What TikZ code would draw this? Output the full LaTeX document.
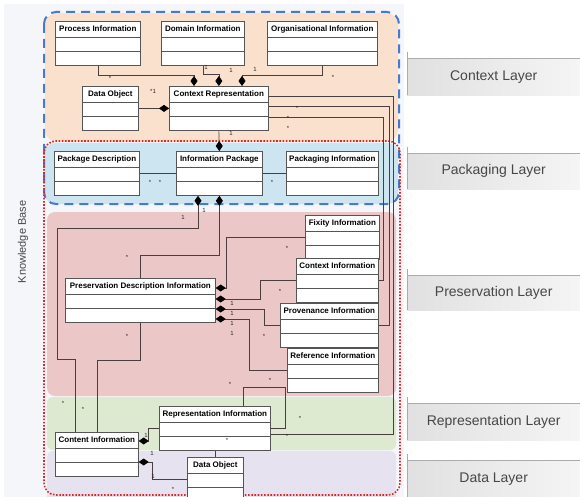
\documentclass[tikz,border=0pt]{standalone}
\usepackage{fontspec}
\setmainfont{Liberation Sans}
\usepackage{tikz}
\usetikzlibrary{shapes.multipart,arrows.meta,positioning,calc}

\definecolor{ctxfill}{RGB}{250,225,205}
\definecolor{pkgfill}{RGB}{204,229,240}
\definecolor{presfill}{RGB}{236,199,199}
\definecolor{repfill}{RGB}{222,234,208}
\definecolor{datafill}{RGB}{231,226,240}
\definecolor{kbfill}{RGB}{244,246,250}
\definecolor{kbblue}{RGB}{72,122,200}
\definecolor{kbred}{RGB}{222,40,40}
\definecolor{boxline}{RGB}{85,85,85}
\definecolor{linkline}{RGB}{75,62,62}

\begin{document}
\begin{tikzpicture}[x=1pt,y=-1pt,
  umlclass/.style={rectangle split,rectangle split parts=3,
    rectangle split ignore empty parts=false,
    rectangle split empty part height=7.5pt,rectangle split empty part depth=0pt,
    draw=boxline,fill=white,line width=0.7pt,inner xsep=2pt,inner ysep=3pt,
    anchor=north west,font=\fontsize{8}{9}\selectfont\bfseries,
    execute at begin node={\rule[-2.5pt]{0pt}{9pt}}},
  layertab/.style={anchor=north west,minimum width=173pt,inner sep=0pt,
    left color=gray!24,right color=gray!8,font=\fontsize{14}{16}\selectfont,
    text=black!72},
  tabedge/.style={draw=gray!65,line width=0.8pt},
  assoc/.style={draw=linkline,line width=0.7pt},
  compo/.style={assoc,-{Diamond[length=10pt,width=7pt,black]}},
  mult/.style={font=\fontsize{6}{7}\selectfont,inner sep=0pt,text=black!85},
]
  \useasboundingbox (0,0) rectangle (580,497);

  % layers
  \fill[kbfill] (4,4) rectangle (404,497);
  \fill[ctxfill,rounded corners=12pt] (45,13) rectangle (398,142);
  \fill[pkgfill,rounded corners=10pt] (45,143) rectangle (398,204);
  \fill[presfill,rounded corners=8pt] (47,212) rectangle (396,396);
  \fill[repfill,rounded corners=6pt] (47,397) rectangle (396,450);
  \fill[datafill,rounded corners=6pt] (47,451) rectangle (396,505);
  \draw[kbblue,line width=2pt,dash pattern=on 9pt off 6pt,rounded corners=12pt]
    (44,12) rectangle (399,204);
  \draw[kbred,line width=1.6pt,dash pattern=on 1.6pt off 1.6pt,rounded corners=12pt]
    (44,141) rectangle (400,495);
  \node[rotate=90,font=\fontsize{11}{13}\selectfont,text=black!72] (kb) at (23,242)
    {Knowledge Base};

  % layer tabs
  \node[layertab,minimum height=37pt] (tctx) at (407,58) {Context Layer};
  \node[layertab,minimum height=36pt] (tpkg) at (407,153) {Packaging Layer};
  \node[layertab,minimum height=35pt] (tpres) at (407,275) {Preservation Layer};
  \node[layertab,minimum height=37pt] (trep) at (407,403) {Representation Layer};
  \node[layertab,minimum height=37pt] (tdata) at (407,460) {Data Layer};
  \foreach \t in {tctx,tpkg,tpres,trep,tdata}
    \draw[tabedge] ([yshift=6pt]\t.north west) -- (\t.south west)
      (\t.north west) -- (\t.north east);

  % classes
  \node[umlclass,minimum width=85pt] (proc) at (55,21) {Process Information};
  \node[umlclass,minimum width=83pt] (dom) at (161,21) {Domain Information};
  \node[umlclass,minimum width=110pt] (org) at (267,21) {Organisational Information};
  \node[umlclass,minimum width=56pt] (dobjc) at (82,86) {Data Object};
  \node[umlclass,minimum width=99pt] (ctxrep) at (169,86) {Context Representation};
  \node[umlclass,minimum width=85pt] (pkgdesc) at (54,151) {Package Description};
  \node[umlclass,minimum width=86pt] (infopkg) at (176,151) {Information Package};
  \node[umlclass,minimum width=92pt] (pkginfo) at (286,151) {Packaging Information};
  \node[umlclass,minimum width=150pt] (pdi) at (65,278)
    {Preservation Description Information};
  \node[umlclass,minimum width=74pt] (fixity) at (305,215) {Fixity Information};
  \node[umlclass,minimum width=82pt] (ctxinfo) at (296,258) {Context Information};
  \node[umlclass,minimum width=98pt] (prov) at (280,303) {Provenance Information};
  \node[umlclass,minimum width=91pt] (ref) at (287,348) {Reference Information};
  \node[umlclass,minimum width=111pt] (repinfo) at (159,406)
    {Representation Information};
  \node[umlclass,minimum width=83pt] (content) at (55,432) {Content Information};
  \node[umlclass,minimum width=56pt] (dobj) at (187,457) {Data Object};

  % context layer links
  \draw[compo] (proc.south) |- ($(ctxrep.north west)+(25,-11)$)
    -- ($(ctxrep.north west)+(25,0)$);
  \draw[compo] (dom.south) |- ($(ctxrep.north)+(0,-12)$) -- (ctxrep.north);
  \draw[compo] (org.south) |- ($(ctxrep.north west)+(73,-11)$)
    -- ($(ctxrep.north west)+(73,0)$);
  \draw[compo] (dobjc.east) -- (ctxrep.west);
  \draw[compo] (ctxrep.south) -- (infopkg.north);
  \draw[assoc] ($(ctxrep.north east)+(0,10)$) -| ($(repinfo.north east)+(123,0)$)
    |- ($(repinfo.north east)+(0,28)$);
  \draw[assoc] ($(ctxrep.north east)+(0,20)$) -| ($(prov.east)+(11,0)$) -- (prov.east);
  \draw[assoc] ($(ctxrep.north east)+(0,31)$) -| ($(ctxinfo.east)+(5,0)$)
    -- (ctxinfo.east);

  % packaging layer links
  \draw[assoc] (pkgdesc.east) -- (infopkg.west);
  \draw[assoc] (infopkg.east) -- (pkginfo.west);
  \draw[compo] ($(content.north west)+(20,0)$) |- (57,359)
    |- ($(infopkg.south west)+(22,33)$) -- ($(infopkg.south west)+(22,0)$);
  \draw[compo] (pdi.north) |- ($(infopkg.south)+(0,60)$) -- (infopkg.south);
  \draw[assoc] (pdi.south) |- ($(content.north)+(0,-72)$) -- (content.north);

  % preservation layer links
  \draw[compo] (fixity.west) -| ($(pdi.north east)+(11,10)$)
    -- ($(pdi.north east)+(0,10)$);
  \draw[compo] (ctxinfo.west) -| ($(pdi.north east)+(45,21)$)
    -- ($(pdi.north east)+(0,21)$);
  \draw[compo] (prov.west) -| ($(pdi.north east)+(49,31)$)
    -- ($(pdi.north east)+(0,31)$);
  \draw[compo] (ref.west) -| ($(pdi.north east)+(34,41)$)
    -- ($(pdi.north east)+(0,41)$);

  % representation and data layer links
  \draw[assoc] ($(repinfo.north west)+(84,0)$) |- ($(repinfo.north east)+(15,-19)$)
    |- (repinfo.east);
  \draw[compo] (repinfo.west) -| ($(content.north east)+(10,9)$)
    -- ($(content.north east)+(0,9)$);
  \draw[compo] (dobj.west) -| ($(content.north east)+(14,30)$)
    -- ($(content.north east)+(0,30)$);
  \draw[assoc] (repinfo.south) -- (repinfo.south |- dobj.north);

  % multiplicities
  \foreach \p [count=\i] in {(206,67),(231,70),(255,69),(231,133),(204,210),
      (183,217),(232,303),(232,313),(232,323),(232,333),(146,435),(152,453),(153,476)}
    \node[mult] (one\i) at \p {1};
  \foreach \p [count=\i] in {(110,78),(333,77),(297,108),(288,118),(288,128),
      (150,182),(160,182),(272,182),(127,257),(127,336),(287,248),(280,291),
      (264,336),(270,380),(230,384),(63,403),(83,409),(227,440),(300,418),
      (287,436),(173,489)}
    \node[mult] (st\i) at \p {*};
  \node[mult] (dmult) at (153,91) {*1};
\end{tikzpicture}
\end{document}
